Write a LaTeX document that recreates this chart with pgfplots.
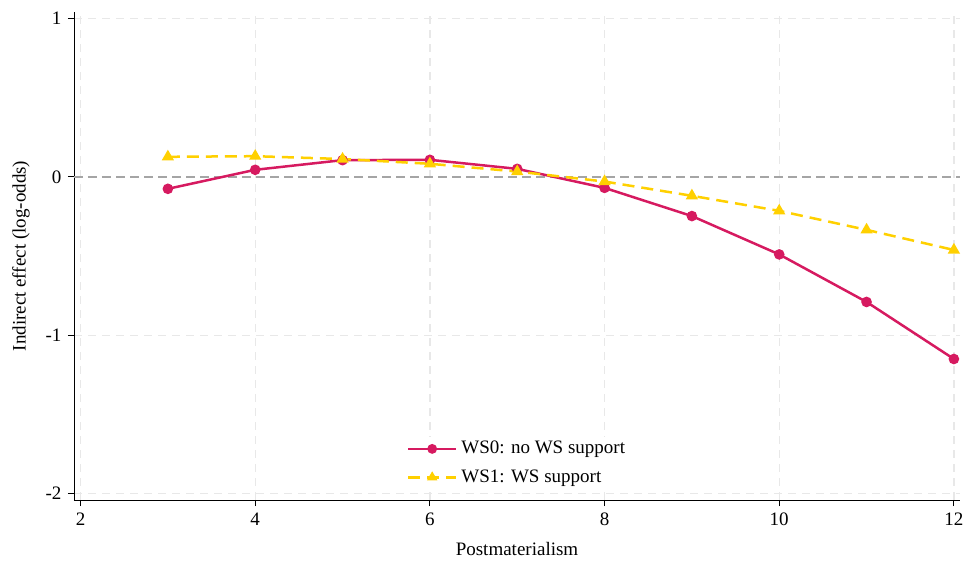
\documentclass[border=0pt]{standalone}
\usepackage{fontspec}
\setmainfont{Liberation Serif}
\usepackage{pgfplots}
\pgfplotsset{compat=1.18}
\definecolor{wsred}{RGB}{214,26,96}
\definecolor{wsyel}{RGB}{255,208,0}
\definecolor{gridc}{RGB}{232,232,232}
\definecolor{zeroc}{RGB}{165,165,165}
\begin{document}
\fontsize{19}{23}\selectfont
\begin{tikzpicture}
\begin{axis}[name=ax,
  scale only axis, width=886pt, height=488pt,
  xmin=1.925, xmax=12.07, ymin=-2.04, ymax=1.04,
  axis x line*=bottom, axis y line*=left,
  xtick={2,4,...,12}, ytick={-2,-1,0,1},
  tick align=outside, major tick length=6pt,
  tick style={black, line width=0.8pt},
  axis line style={black, line width=0.9pt, -},
  /pgf/number format/assume math mode=true,
  ticklabel style={font=\fontsize{19}{23}\selectfont},
  label style={font=\fontsize{19}{23}\selectfont},
  xlabel={Postmaterialism}, ylabel={Indirect effect (log-odds)},
  xlabel style={yshift=-4pt}, ylabel style={yshift=3pt},
  grid=major, major grid style={gridc, dashed, dash pattern=on 8pt off 6pt, line width=1.4pt},
  legend style={at={(0.5,0.022)}, anchor=south, draw=none, fill=white, font=\fontsize{19}{23}\selectfont, row sep=9pt},
  legend cell align=left,
  legend image code/.code={\draw[#1] (0pt,0pt) -- (24pt,0pt) -- (48pt,0pt); \path[#1, solid, mark size=3.6pt] plot coordinates {(24pt,0pt)}; \path (50pt,0pt);},
]
\addplot[zeroc, dashed, dash pattern=on 9pt off 5pt, line width=1.6pt, forget plot] coordinates {(1.925,0) (12.07,0)};
\addplot[wsred, line width=2.5pt, mark=*, mark size=4pt, mark options={solid}] coordinates {
(3,-0.076) (4,0.044) (5,0.105) (6,0.107) (7,0.05) (8,-0.07) (9,-0.248) (10,-0.49) (11,-0.79) (12,-1.15)};
\addlegendentry{WS0: no WS support}
\addplot[wsyel, line width=2.5pt, dashed, dash pattern=on 12pt off 7pt, mark=triangle*, mark size=4.6pt, mark options={solid}] coordinates {
(3,0.126) (4,0.13) (5,0.112) (6,0.082) (7,0.033) (8,-0.03) (9,-0.12) (10,-0.215) (11,-0.335) (12,-0.462)};
\addlegendentry{WS1: WS support}
\end{axis}
\pgfresetboundingbox
\useasboundingbox ([xshift=-74pt,yshift=-63pt]ax.south west) rectangle ([xshift=6pt,yshift=12pt]ax.north east);
\end{tikzpicture}
\end{document}
